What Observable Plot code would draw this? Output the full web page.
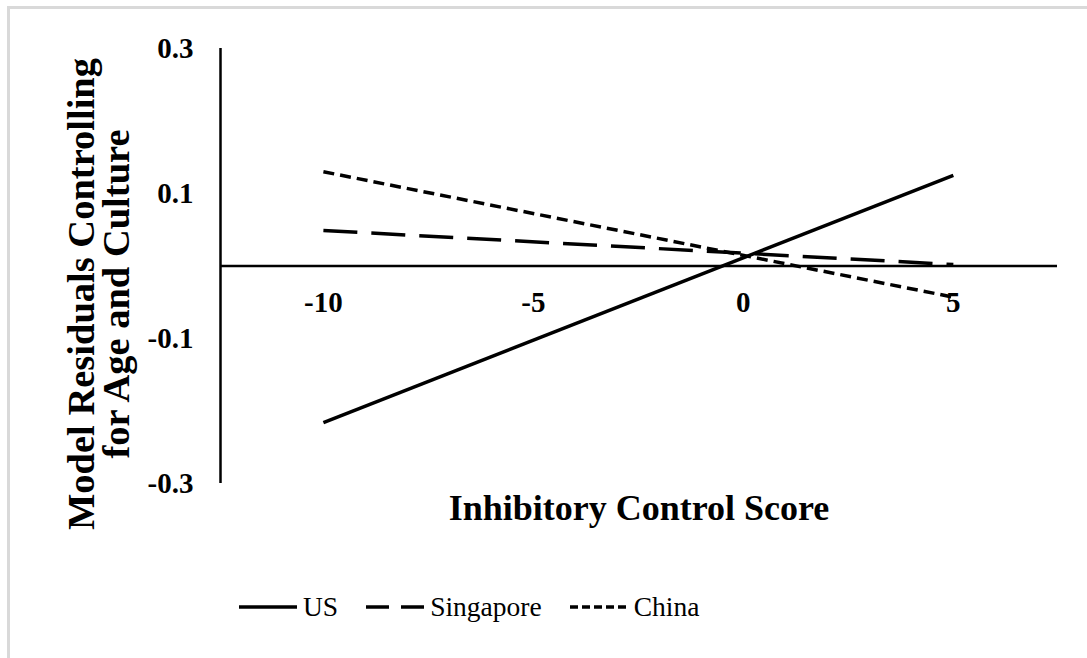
<!DOCTYPE html>
<html>
<head>
<meta charset="utf-8">
<script src="https://cdn.jsdelivr.net/npm/d3@7"></script>
<script src="https://cdn.jsdelivr.net/npm/@observablehq/plot@0.6"></script>
<style>
  html, body { margin: 0; padding: 0; background: #fff; }
  body { width: 1087px; height: 658px; position: relative; overflow: hidden; font-family: "Liberation Serif", "Times New Roman", serif; }
  #frame { position: absolute; left: 7px; top: 6px; right: -10px; bottom: -10px; border-top: 3px solid #d9d9d9; border-left: 3px solid #d9d9d9; }
  #chart { position: absolute; left: 0; top: 0; }
  #legend { position: absolute; left: 239px; top: 591px; display: flex; align-items: center; gap: 28px; font-size: 27.5px; color: #000; }
  .item { display: flex; align-items: center; }
  .item svg { margin-right: 6px; }
</style>
</head>
<body>
<div id="frame"></div>
<div id="chart"></div>
<div id="legend"></div>
<script>
// ---- data ----
const xValues = [-10, 5];
const seriesNames = ["US", "Singapore", "China"];
const usValues = [-0.216, 0.125];
const singaporeValues = [0.049, 0.002];
const chinaValues = [0.130, -0.043];
const xTicks = [-10, -5, 0, 5];
const xTickLabels = ["-10", "-5", "0", "5"];
const yTicks = [0.3, 0.1, -0.1, -0.3];
const yTickLabels = ["0.3", "0.1", "-0.1", "-0.3"];
const xLabel = "Inhibitory Control Score";
const yLabel = "Model Residuals Controlling\nfor Age and Culture";

// ---- styles ----
const dashes = { US: null, Singapore: "34,14", China: "11,6" };
const legendDashes = { US: null, Singapore: "23,12", China: "8,4" };

const valuesBySeries = { US: usValues, Singapore: singaporeValues, China: chinaValues };
const table = seriesNames.flatMap(s => xValues.map((x, i) => ({ series: s, x, y: valuesBySeries[s][i] })));

const font = '"Liberation Serif", "Times New Roman", serif';

const lineMarks = seriesNames.map(s => Plot.line(table.filter(d => d.series === s), {
  x: "x", y: "y", stroke: "#000", strokeWidth: 3.5,
  strokeDasharray: dashes[s] || undefined, strokeLinecap: "butt"
}));

const chart = Plot.plot({
  width: 1087,
  height: 560,
  marginLeft: 220,
  marginRight: 30,
  marginTop: 48,
  marginBottom: 77,
  style: { fontFamily: font, fontSize: "29px", fontWeight: "bold", background: "transparent", color: "#000", overflow: "visible" },
  x: { domain: [-12.45, 7.48], axis: null },
  y: { domain: [-0.3, 0.3], axis: null },
  marks: [
    Plot.ruleY([0], { stroke: "#000", strokeWidth: 2.5 }),
    Plot.ruleX([-12.45], { y1: -0.3, y2: 0.3, stroke: "#000", strokeWidth: 2.5 }),
    Plot.axisY(yTicks, { label: null, tickSize: 0, tickPadding: 27, tickFormat: d => yTickLabels[yTicks.indexOf(d)], fontSize: 29, fontWeight: "bold", fill: "#000" }),
    Plot.text(xTicks, { x: d => d, y: 0, text: (d, i) => xTickLabels[i], dy: 37, fontSize: 29, fontWeight: "bold", fill: "#000", lineAnchor: "middle" }),
    ...lineMarks,
    Plot.text([xLabel], { frameAnchor: "bottom", dy: 24.5, fontSize: 36, fontWeight: "bold", fill: "#000", lineAnchor: "middle", textAnchor: "middle" }),
    Plot.text([yLabel], { frameAnchor: "left", dx: -120, dy: 28, rotate: -90, fontSize: 38.5, fontWeight: "bold", fill: "#000", lineAnchor: "middle", textAnchor: "middle", lineHeight: 0.91 })
  ]
});
document.getElementById("chart").appendChild(chart);

// ---- legend ----
const legend = document.getElementById("legend");
for (const s of seriesNames) {
  const item = document.createElement("div");
  item.className = "item";
  const ns = "http://www.w3.org/2000/svg";
  const svg = document.createElementNS(ns, "svg");
  svg.setAttribute("width", 58);
  svg.setAttribute("height", 8);
  const ln = document.createElementNS(ns, "line");
  ln.setAttribute("x1", 0); ln.setAttribute("x2", 58);
  ln.setAttribute("y1", 4); ln.setAttribute("y2", 4);
  ln.setAttribute("stroke", "#000"); ln.setAttribute("stroke-width", 3.5);
  if (legendDashes[s]) ln.setAttribute("stroke-dasharray", legendDashes[s]);
  svg.appendChild(ln);
  const label = document.createElement("span");
  label.textContent = s;
  item.appendChild(svg);
  item.appendChild(label);
  legend.appendChild(item);
}
</script>
</body>
</html>
